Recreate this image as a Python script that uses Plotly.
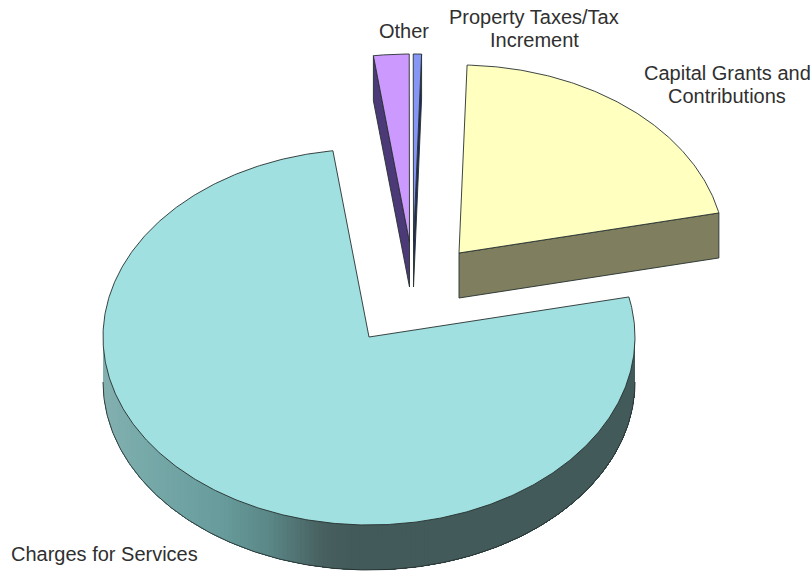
import numpy as np
import plotly.graph_objects as go

# Revenue shares (percent), listed counter-clockwise from the first cut
categories = ["Capital Grants and Contributions", "Property Taxes/Tax Increment", "Other", "Charges for Services"]
shares = [21.1, 0.5, 2.15, 76.25]
top_colors = ["#FFFFC0", "#8596F5", "#CC99FF", "#A0E0E0"]
wall_colors = ["#7F7F5F", "#1E2A66", "#4C3A78", "#435A5A"]
label_lines = [["Capital Grants and", "Contributions"], ["Property Taxes/Tax", "Increment"], ["Other"],
               ["Charges for Services"]]

# Pie projection, in page pixels
RX, RY, DEPTH = 266.0, 188.0, 45.0
START_DEG = 12.3
hubs = [(459, 253), (413.5, 242), (409.5, 242), (369, 337)]
label_anchor = [(727, 73, "center"), (534, 17, "center"), (404, 31, "center"), (9, 554, "left")]
LINE_STEP = 23
EDGE = "#26302F"

fig = go.Figure()


def poly(xs, ys, fill, line=EDGE, width=0.9):
    fig.add_trace(go.Scatter(x=xs, y=ys, mode="lines", fill="toself", fillcolor=fill,
                             line=dict(color=line, width=width), hoverinfo="skip", showlegend=False))


def rim(cx, cy, a0, a1, n=None, drop=0.0):
    n = n or max(3, int(abs(a1 - a0) * 2))
    t = np.radians(np.linspace(a0, a1, n))
    return cx + RX * np.cos(t), cy - RY * np.sin(t) + drop


def shade(x):
    # Lateral lighting on the big wall: pale on the left, dark past the middle
    stops_x = [103, 140, 220, 270, 320, 350, 640]
    r = np.interp(x, stops_x, [0x84, 0x78, 0x68, 0x5A, 0x48, 0x43, 0x43])
    g = np.interp(x, stops_x, [0xB0, 0xAA, 0x9C, 0x86, 0x60, 0x5A, 0x5A])
    b = np.interp(x, stops_x, [0xB0, 0xAA, 0x9C, 0x86, 0x60, 0x5A, 0x5A])
    return f"rgb({r:.0f},{g:.0f},{b:.0f})"


edges = START_DEG + np.concatenate([[0], np.cumsum(shares)]) * 3.6

# Back slices first so the nearer ones paint over them
for i in [0, 1, 2]:
    a0, a1 = edges[i], edges[i + 1]
    cx, cy = hubs[i]
    # Cut face visible toward the viewer
    a_cut = a1 if i == 2 else a0
    ex, ey = rim(cx, cy, a_cut, a_cut, 2)
    poly([cx, ex[0], ex[0], cx, cx], [cy, ey[0], ey[0] + DEPTH, cy + DEPTH, cy], wall_colors[i])
    rx_, ry_ = rim(cx, cy, a0, a1)
    poly([cx, *rx_, cx], [cy, *ry_, cy], top_colors[i])

# Large slice: each wall band runs on to the far end and the next one paints over it,
# which keeps the gradient free of seams between bands
i = 3
a0, a1 = edges[i], edges[i + 1]
cx, cy = hubs[i]
for u in np.linspace(180, 285, 106):
    sx, sy = rim(cx, cy, u, 360, 90)
    col = shade(sx[0] + 1)
    poly([*sx, *sx[::-1], sx[0]], [*sy, *(sy[::-1] + DEPTH), sy[0]], col, line=col, width=0)
lx, ly = rim(cx, cy, 180, 360, 240, DEPTH)
fig.add_trace(go.Scatter(x=lx, y=ly, mode="lines", line=dict(color=EDGE, width=0.9),
                         hoverinfo="skip", showlegend=False))
tx, ty = rim(cx, cy, a0, a1, 500)
poly([cx, *tx, cx], [cy, *ty, cy], top_colors[i])

for lines, (ax, ay, al) in zip(label_lines, label_anchor):
    for k, text in enumerate(lines):
        fig.add_annotation(x=ax, y=ay + k * LINE_STEP, text=text, showarrow=False, align=al,
                           xanchor=al, yanchor="middle",
                           font=dict(family="Liberation Sans", size=20, color="#303030"))

fig.update_layout(
    width=812, height=571, margin=dict(l=0, r=0, t=0, b=0),
    paper_bgcolor="white", plot_bgcolor="white", showlegend=False,
    xaxis=dict(range=[0, 812], visible=False, fixedrange=True),
    yaxis=dict(range=[571, 0], visible=False, fixedrange=True),
)
fig.write_html("out.html", config={"displayModeBar": False})
